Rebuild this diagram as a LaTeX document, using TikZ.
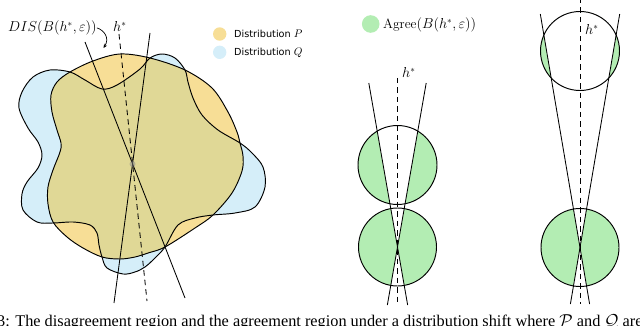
\documentclass[tikz,border=0pt]{standalone}
\usepackage{fontspec}
\newfontfamily\legfont{DejaVu Sans}
\newfontfamily\capfont{Liberation Serif}
\usetikzlibrary{arrows.meta}
\definecolor{colP}{HTML}{F7DE96}
\definecolor{colQ}{HTML}{D5EEF9}
\definecolor{colPQ}{HTML}{E0D896}
\definecolor{colG}{HTML}{B3EDB3}
\def\pathP{plot[smooth cycle, tension=0.55] coordinates {(120,54) (150,58) (185,70) (212,88) (228,112) (237,132) (240,143) (243,156) (242,171) (232,193) (213,215) (195,228) (165,247) (148,253) (135,257) (120,259) (102,257) (83,248) (67,237) (53,222) (48,204) (48,187) (53,170) (60,152) (61,143) (57,130) (52,112) (51,95) (57,82) (70,72) (93,61)}}
\def\pathQ{plot[smooth cycle, tension=0.55] coordinates {(70,72) (85,80) (102,89) (117,85) (140,69) (150,58) (162,54) (175,58) (185,70) (188,82) (193,98) (202,115) (218,130) (240,143) (252,153) (263,167) (265,187) (255,207) (235,213) (213,215) (195,218) (178,225) (165,247) (155,258) (145,267) (135,272) (123,274) (107,268) (102,257) (99,245) (97,233) (90,225) (73,222) (53,223) (37,222) (23,210) (22,194) (27,182) (38,168) (42,155) (38,142) (28,128) (19,108) (22,92) (33,77) (50,70)}}
\begin{document}
\begin{tikzpicture}[x=1pt,y=-1pt,
  outline/.style={line width=0.95pt},
  hline/.style={line width=0.85pt},
  hdash/.style={line width=0.85pt, dash pattern=on 5.5pt off 4pt},
  lbl/.style={font=\fontsize{13.5}{16}\selectfont, inner sep=0pt},
  legtxt/.style={font=\legfont\fontsize{9.7}{12}\selectfont, inner sep=0pt},
  legdot/.style={circle, inner sep=0pt, minimum size=13.4pt}]
\clip (0,0) rectangle (640,326);

% ---------- left figure: distributions ----------
\fill[colQ] \pathQ;
\fill[colP] \pathP;
\begin{scope}
  \clip \pathQ;
  \fill[colPQ] \pathP;
\end{scope}
\draw[outline] \pathQ;
\draw[outline] \pathP;

\coordinate (C) at (132.5,164);
\coordinate (L1a) at (85,42);
\coordinate (L1b) at (185,298);
\coordinate (L2a) at (150,33);
\coordinate (L2b) at (114,303);
\coordinate (Da) at (119,34);
\coordinate (Db) at (147,301);
\draw[hline] (L1a) -- (L1b);
\draw[hline] (L2a) -- (L2b);
\draw[hdash] (Da) -- (Db);
\fill[black!45, opacity=0.5] (C) circle (3pt);

\node[lbl, anchor=base west] (dis) at (8,31.5) {$DIS(B(h^{*},\varepsilon))$};
\node[lbl, anchor=base west] (hL) at (113,31.5) {$h^{*}$};
\coordinate (arrEnd) at (103.5,48);
\draw[line width=0.7pt, -{Stealth[length=4pt,width=3.5pt]}] (dis.east) .. controls (104,30) and (110,38) .. (arrEnd);

% legend
\node[legdot, fill=colP] (lgP) at (219.7,34) {};
\node[legdot, fill=colQ] (lgQ) at (219.7,52.3) {};
\node[legtxt, anchor=base west] (tP) at (234,37.7) {Distribution \fontsize{11}{12}\selectfont$P$};
\node[legtxt, anchor=base west] (tQ) at (234,56) {Distribution \fontsize{11}{12}\selectfont$Q$};

% ---------- middle figure ----------
\coordinate (MX) at (397.5,247);
\coordinate (ML1) at (368.8,83);
\coordinate (MR1) at (426.2,83);
\coordinate (ML2) at (407.65,305);
\coordinate (MR2) at (387.35,305);
\coordinate (MDa) at (397.5,78);
\coordinate (MDb) at (397.5,305);
\begin{scope}
  \clip (397.5,165) circle (39.5pt);
  \fill[colG] (397.5,165) circle (39.5pt);
  \fill[white] (ML1) -- (MR1) -- (MX) -- cycle;
\end{scope}
\begin{scope}
  \clip (397.5,247) circle (39pt);
  \fill[colG] (397.5,247) circle (39pt);
  \fill[white] (ML1) -- (MR1) -- (MX) -- cycle;
  \fill[white] (ML2) -- (MR2) -- (MX) -- cycle;
\end{scope}
\node[circle, draw, outline, minimum size=79pt, inner sep=0pt] (MC1) at (397.5,165) {};
\node[circle, draw, outline, minimum size=78pt, inner sep=0pt] (MC2) at (397.5,247) {};
\draw[hline] (ML1) -- (ML2);
\draw[hline] (MR1) -- (MR2);
\draw[hdash] (MDa) -- (MDb);
\node[lbl, anchor=base west] (hM) at (402,78) {$h^{*}$};

% ---------- right figure ----------
\coordinate (RX) at (580,247.5);
\coordinate (RL1) at (540.3,14);
\coordinate (RR1) at (619.7,14);
\coordinate (RL2) at (589.6,304);
\coordinate (RR2) at (570.4,304);
\coordinate (RLf) at (537.9,0);
\coordinate (RRf) at (622.1,0);
\coordinate (RDa) at (580,-2);
\coordinate (RDb) at (580,304);
\begin{scope}
  \clip (580,51) circle (39.5pt);
  \fill[colG] (580,51) circle (39.5pt);
  \fill[white] (RLf) -- (RRf) -- (RX) -- cycle;
\end{scope}
\begin{scope}
  \clip (580,247.5) circle (39pt);
  \fill[colG] (580,247.5) circle (39pt);
  \fill[white] (RLf) -- (RRf) -- (RX) -- cycle;
  \fill[white] (RL2) -- (RR2) -- (RX) -- cycle;
\end{scope}
\node[circle, draw, outline, minimum size=79pt, inner sep=0pt] (RC1) at (580,51) {};
\node[circle, draw, outline, minimum size=78pt, inner sep=0pt] (RC2) at (580,247.5) {};
\draw[hline] (RL1) -- (RL2);
\draw[hline] (RR1) -- (RR2);
\draw[hdash] (RDa) -- (RDb);
\node[lbl, anchor=base west] (hR) at (585,35) {$h^{*}$};

% legend agree
\node[legdot, fill=colG, minimum size=17.6pt] (lgG) at (370.7,24) {};
\node[lbl, anchor=base west] (tG) at (383,28.5) {Agree$(B(h^{*},\varepsilon))$};

% ---------- caption (cut off, as in the reference) ----------
\node[anchor=base west, inner sep=0pt, font=\capfont\fontsize{16.3}{19}\selectfont] (cap) at (-3,326) {3: The disagreement region and the agreement region under a distribution shift where $\mathcal{P}$ and $\mathcal{Q}$ are};
\end{tikzpicture}
\end{document}
